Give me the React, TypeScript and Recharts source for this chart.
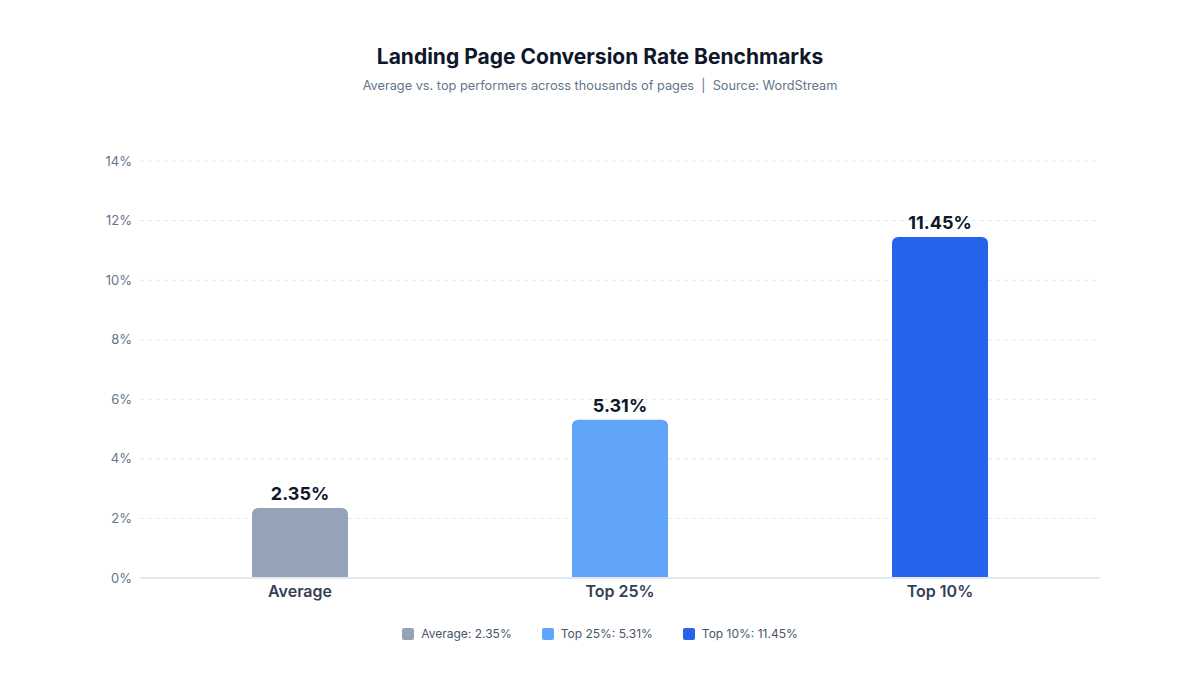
import React from 'react';
import { BarChart, Bar, XAxis, YAxis, CartesianGrid, Cell, LabelList, Legend } from 'recharts';

const categories = ['Average', 'Top 25%', 'Top 10%'];
const rates = [2.35, 5.31, 11.45];
const colors = ['#94a3b8', '#60a5fa', '#2563eb'];
const yTicks = [0, 2, 4, 6, 8, 10, 12, 14];

const data = categories.map((name, i) => ({ name, rate: rates[i] }));

const FONT = 'Inter, "Noto Sans", sans-serif';

const renderLegend = () => (
  <div style={{ display: 'flex', justifyContent: 'center', gap: 30, fontFamily: FONT, fontSize: 12, color: '#475569' }}>
    {categories.map((name, i) => (
      <div key={name} style={{ display: 'flex', alignItems: 'center' }}>
        <span style={{ width: 12, height: 12, borderRadius: 2, background: colors[i], marginRight: 7, display: 'inline-block' }} />
        {name}: {rates[i].toFixed(2)}%
      </div>
    ))}
  </div>
);

const App: React.FC = () => {
  return (
    <div style={{ position: 'absolute', left: 0, top: 0, width: 1200, height: 675, background: '#fff', fontFamily: FONT }}>
      <div style={{ position: 'absolute', top: 44, width: '100%', textAlign: 'center', fontSize: 21, fontWeight: 700, color: '#0f172a' }}>
        Landing Page Conversion Rate Benchmarks
      </div>
      <div style={{ position: 'absolute', top: 78, width: '100%', textAlign: 'center', fontSize: 12.75, color: '#64748b' }}>
        Average vs. top performers across thousands of pages &nbsp;|&nbsp; Source: WordStream
      </div>
      <BarChart
        width={1200}
        height={675}
        data={data}
        margin={{ top: 161, right: 100, bottom: 52, left: 80 }}
        style={{ position: 'absolute', left: 0, top: 0 }}
      >
        <CartesianGrid vertical={false} stroke="#e2e8f0" strokeDasharray="4 4" />
        <XAxis
          dataKey="name"
          axisLine={{ stroke: '#e2e8f0', strokeWidth: 2 }}
          tickLine={false}
          tick={{ fill: '#334155', fontSize: 16, fontWeight: 600 }}
        />
        <YAxis
          width={60}
          domain={[0, 14]}
          ticks={yTicks}
          tickFormatter={(v: number) => `${v}%`}
          axisLine={false}
          tickLine={false}
          tick={{ fill: '#64748b', fontSize: 13 }}
        />
        <Legend verticalAlign="bottom" content={renderLegend} wrapperStyle={{ bottom: 34, left: 0, width: 1200 }} />
        <Bar dataKey="rate" barSize={96} radius={[6, 6, 0, 0]} isAnimationActive={false}>
          {data.map((d, i) => (
            <Cell key={d.name} fill={colors[i]} />
          ))}
          <LabelList
            dataKey="rate"
            position="top"
            offset={8}
            formatter={(v: number) => `${v.toFixed(2)}%`}
            style={{ fill: '#0f172a', fontSize: 18, fontWeight: 700 }}
          />
        </Bar>
      </BarChart>
    </div>
  );
};

export default App;
